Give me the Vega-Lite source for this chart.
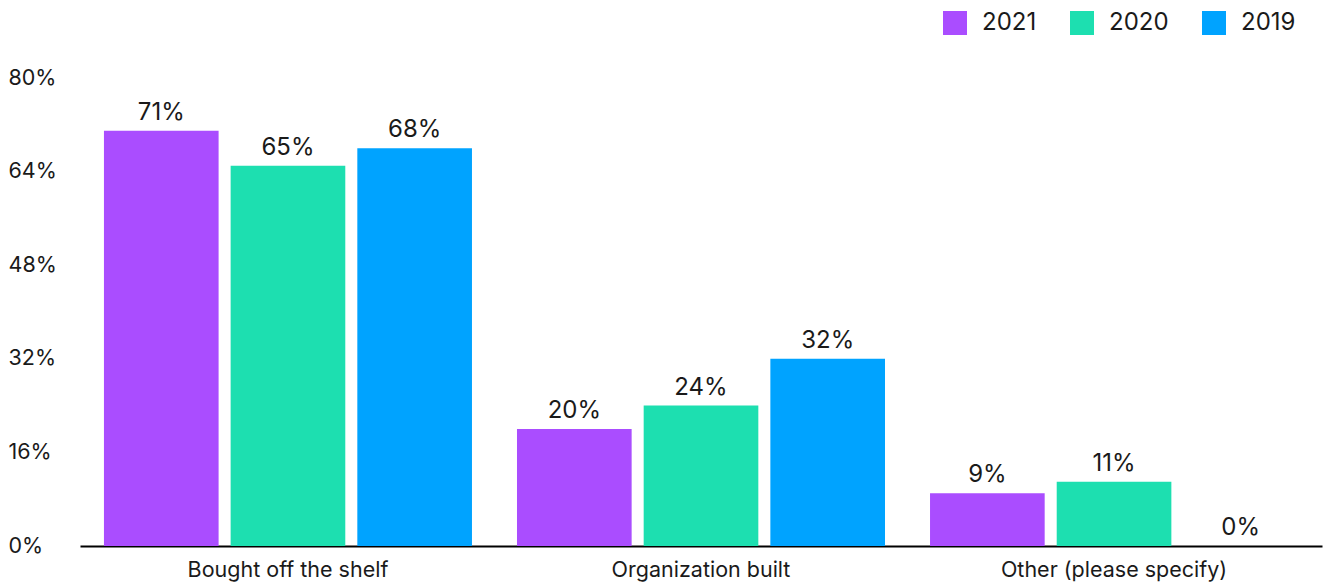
{
  "$schema": "https://vega.github.io/schema/vega-lite/v6.json",
  "width": 1242,
  "height": 468,
  "autosize": "none",
  "padding": {"left": 80, "top": 78, "right": 11, "bottom": 37},
  "background": "white",
  "config": {
    "font": "Inter",
    "view": {"stroke": null}
  },
  "data": {
    "values": [
      {"category": "Bought off the shelf", "year": "2021", "value": 71},
      {"category": "Bought off the shelf", "year": "2020", "value": 65},
      {"category": "Bought off the shelf", "year": "2019", "value": 68},
      {"category": "Organization built", "year": "2021", "value": 20},
      {"category": "Organization built", "year": "2020", "value": 24},
      {"category": "Organization built", "year": "2019", "value": 32},
      {"category": "Other (please specify)", "year": "2021", "value": 9},
      {"category": "Other (please specify)", "year": "2020", "value": 11},
      {"category": "Other (please specify)", "year": "2019", "value": 0}
    ]
  },
  "transform": [{"calculate": "datum.value + '%'", "as": "label"}],
  "encoding": {
    "x": {
      "field": "category",
      "type": "nominal",
      "sort": null,
      "scale": {"paddingInner": 0.109, "paddingOuter": 0.058},
      "axis": {
        "title": null,
        "labelAngle": 0,
        "labelFontSize": 21.5,
        "labelLimit": 0,
        "labelColor": "#1a1a1a",
        "labelPadding": 13,
        "ticks": false,
        "domainColor": "#000000",
        "domainWidth": 2,
        "grid": false
      }
    },
    "xOffset": {
      "field": "year",
      "type": "nominal",
      "sort": ["2021", "2020", "2019"],
      "scale": {"paddingInner": 0.095, "paddingOuter": 0}
    },
    "y": {
      "field": "value",
      "type": "quantitative",
      "scale": {"domain": [0, 80]},
      "axis": {
        "title": null,
        "values": [0, 16, 32, 48, 64, 80],
        "labelExpr": "datum.value + '%'",
        "labelFontSize": 21.5,
        "labelColor": "#1a1a1a",
        "labelAlign": "left",
        "labelPadding": 72,
        "ticks": false,
        "domain": false,
        "grid": false
      }
    }
  },
  "layer": [
    {
      "mark": {"type": "bar"},
      "encoding": {
        "color": {
          "field": "year",
          "type": "nominal",
          "sort": ["2021", "2020", "2019"],
          "scale": {"domain": ["2021", "2020", "2019"], "range": ["#AA4DFF", "#1DDFB0", "#00A3FF"]},
          "legend": {
            "title": null,
            "orient": "none",
            "direction": "horizontal",
            "legendX": 863,
            "legendY": -67,
            "symbolType": "square",
            "symbolSize": 576,
            "symbolStrokeWidth": 0,
            "symbolOpacity": 1,
            "labelFontSize": 24,
            "labelColor": "#1a1a1a",
            "labelOffset": 15,
            "columnPadding": 33
          }
        }
      }
    },
    {
      "mark": {"type": "text", "baseline": "alphabetic", "dy": -11, "fontSize": 24, "color": "#1a1a1a"},
      "encoding": {
        "text": {"field": "label", "type": "nominal"},
        "detail": {"field": "year"}
      }
    }
  ]
}
